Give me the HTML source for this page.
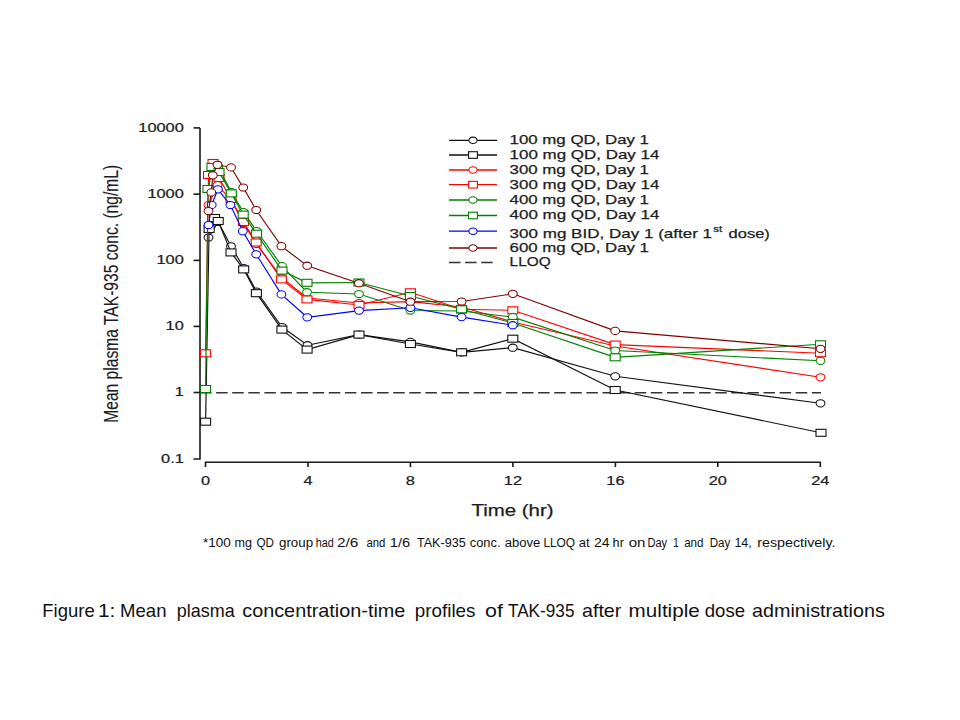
<!DOCTYPE html>
<html><head><meta charset="utf-8"><style>
html,body{margin:0;padding:0;background:#fff;}
svg{position:absolute;left:0;top:0;}
text{font-family:"Liberation Sans",sans-serif;fill:#1c1c24;stroke:#1c1c24;stroke-width:0.25px;}
text.b{fill:#111;stroke:none;}
</style></head><body>
<svg width="960" height="720" viewBox="0 0 960 720">
<g stroke="#1a1a1a" stroke-width="1.6" fill="none">
<path d="M200,127.9 V459 H193.5"/>
<path d="M193.5,127.9 H200"/>
<path d="M193.5,194.2 H200"/>
<path d="M193.5,260.4 H200"/>
<path d="M193.5,326.4 H200"/>
<path d="M193.5,392.5 H200"/>
<path d="M205.5,467 V462.3 H820.3 V467"/>
<path d="M308.0,462.3 V467"/>
<path d="M410.4,462.3 V467"/>
<path d="M512.9,462.3 V467"/>
<path d="M615.4,462.3 V467"/>
<path d="M717.8,462.3 V467"/>
</g>
<path d="M200,392.7 H821" stroke="#333" stroke-width="1.5" stroke-dasharray="11.5 4.6" fill="none"/>
<path d="M208.5,237.5 L218.2,222.0 L231.0,246.3 L243.8,268.0 L256.6,291.5 L282.0,327.0 L307.5,345.2 L359.0,334.6 L410.4,341.9 L461.6,352.3 L512.8,347.7 L615.2,376.3 L820.5,403.3" stroke="#111111" stroke-width="1.15" fill="none"/>
<ellipse cx="208.5" cy="237.5" rx="4.4" ry="3.6" fill="#fff" stroke="#111111" stroke-width="1.05"/>
<ellipse cx="218.2" cy="222.0" rx="4.4" ry="3.6" fill="#fff" stroke="#111111" stroke-width="1.05"/>
<ellipse cx="231.0" cy="246.3" rx="4.4" ry="3.6" fill="#fff" stroke="#111111" stroke-width="1.05"/>
<ellipse cx="243.8" cy="268.0" rx="4.4" ry="3.6" fill="#fff" stroke="#111111" stroke-width="1.05"/>
<ellipse cx="256.6" cy="291.5" rx="4.4" ry="3.6" fill="#fff" stroke="#111111" stroke-width="1.05"/>
<ellipse cx="282.0" cy="327.0" rx="4.4" ry="3.6" fill="#fff" stroke="#111111" stroke-width="1.05"/>
<ellipse cx="307.5" cy="345.2" rx="4.4" ry="3.6" fill="#fff" stroke="#111111" stroke-width="1.05"/>
<ellipse cx="359.0" cy="334.6" rx="4.4" ry="3.6" fill="#fff" stroke="#111111" stroke-width="1.05"/>
<ellipse cx="410.4" cy="341.9" rx="4.4" ry="3.6" fill="#fff" stroke="#111111" stroke-width="1.05"/>
<ellipse cx="461.6" cy="352.3" rx="4.4" ry="3.6" fill="#fff" stroke="#111111" stroke-width="1.05"/>
<ellipse cx="512.8" cy="347.7" rx="4.4" ry="3.6" fill="#fff" stroke="#111111" stroke-width="1.05"/>
<ellipse cx="615.2" cy="376.3" rx="4.4" ry="3.6" fill="#fff" stroke="#111111" stroke-width="1.05"/>
<ellipse cx="820.5" cy="403.3" rx="4.4" ry="3.6" fill="#fff" stroke="#111111" stroke-width="1.05"/>
<path d="M205.6,421.7 L209.1,229.0 L214.5,218.0 L218.2,221.0 L231.0,252.4 L243.7,269.4 L256.4,293.2 L281.9,329.6 L307.1,349.6 L359.0,334.6 L410.4,344.0 L461.6,352.3 L512.8,338.7 L615.2,390.0 L821.0,432.8" stroke="#111111" stroke-width="1.15" fill="none"/>
<rect x="200.6" y="418.2" width="10" height="7" fill="#fff" stroke="#111111" stroke-width="1.1"/>
<rect x="204.1" y="225.5" width="10" height="7" fill="#fff" stroke="#111111" stroke-width="1.1"/>
<rect x="209.5" y="214.5" width="10" height="7" fill="#fff" stroke="#111111" stroke-width="1.1"/>
<rect x="213.2" y="217.5" width="10" height="7" fill="#fff" stroke="#111111" stroke-width="1.1"/>
<rect x="226.0" y="248.9" width="10" height="7" fill="#fff" stroke="#111111" stroke-width="1.1"/>
<rect x="238.7" y="265.9" width="10" height="7" fill="#fff" stroke="#111111" stroke-width="1.1"/>
<rect x="251.4" y="289.7" width="10" height="7" fill="#fff" stroke="#111111" stroke-width="1.1"/>
<rect x="276.9" y="326.1" width="10" height="7" fill="#fff" stroke="#111111" stroke-width="1.1"/>
<rect x="302.1" y="346.1" width="10" height="7" fill="#fff" stroke="#111111" stroke-width="1.1"/>
<rect x="354.0" y="331.1" width="10" height="7" fill="#fff" stroke="#111111" stroke-width="1.1"/>
<rect x="405.4" y="340.5" width="10" height="7" fill="#fff" stroke="#111111" stroke-width="1.1"/>
<rect x="456.6" y="348.8" width="10" height="7" fill="#fff" stroke="#111111" stroke-width="1.1"/>
<rect x="507.8" y="335.2" width="10" height="7" fill="#fff" stroke="#111111" stroke-width="1.1"/>
<rect x="610.2" y="386.5" width="10" height="7" fill="#fff" stroke="#111111" stroke-width="1.1"/>
<rect x="816.0" y="429.3" width="10" height="7" fill="#fff" stroke="#111111" stroke-width="1.1"/>
<path d="M208.5,205.0 L217.5,185.0 L231.0,200.0 L243.5,223.0 L256.2,244.0 L282.0,278.0 L307.0,298.0 L359.0,303.0 L410.4,301.7 L461.6,307.0 L512.8,322.0 L615.2,346.0 L820.5,377.3" stroke="#ff0000" stroke-width="1.15" fill="none"/>
<ellipse cx="208.5" cy="205.0" rx="4.4" ry="3.6" fill="#fff" stroke="#ff0000" stroke-width="1.05"/>
<ellipse cx="217.5" cy="185.0" rx="4.4" ry="3.6" fill="#fff" stroke="#ff0000" stroke-width="1.05"/>
<ellipse cx="231.0" cy="200.0" rx="4.4" ry="3.6" fill="#fff" stroke="#ff0000" stroke-width="1.05"/>
<ellipse cx="243.5" cy="223.0" rx="4.4" ry="3.6" fill="#fff" stroke="#ff0000" stroke-width="1.05"/>
<ellipse cx="256.2" cy="244.0" rx="4.4" ry="3.6" fill="#fff" stroke="#ff0000" stroke-width="1.05"/>
<ellipse cx="282.0" cy="278.0" rx="4.4" ry="3.6" fill="#fff" stroke="#ff0000" stroke-width="1.05"/>
<ellipse cx="307.0" cy="298.0" rx="4.4" ry="3.6" fill="#fff" stroke="#ff0000" stroke-width="1.05"/>
<ellipse cx="359.0" cy="303.0" rx="4.4" ry="3.6" fill="#fff" stroke="#ff0000" stroke-width="1.05"/>
<ellipse cx="410.4" cy="301.7" rx="4.4" ry="3.6" fill="#fff" stroke="#ff0000" stroke-width="1.05"/>
<ellipse cx="461.6" cy="307.0" rx="4.4" ry="3.6" fill="#fff" stroke="#ff0000" stroke-width="1.05"/>
<ellipse cx="512.8" cy="322.0" rx="4.4" ry="3.6" fill="#fff" stroke="#ff0000" stroke-width="1.05"/>
<ellipse cx="615.2" cy="346.0" rx="4.4" ry="3.6" fill="#fff" stroke="#ff0000" stroke-width="1.05"/>
<ellipse cx="820.5" cy="377.3" rx="4.4" ry="3.6" fill="#fff" stroke="#ff0000" stroke-width="1.05"/>
<path d="M205.6,353.3 L208.5,175.0 L213.0,163.0 L219.0,178.0 L231.0,199.0 L243.5,222.0 L256.2,242.5 L281.4,279.4 L307.0,299.4 L359.0,305.0 L410.4,292.3 L461.6,309.3 L512.8,310.3 L615.2,344.6 L820.5,353.2" stroke="#ff0000" stroke-width="1.15" fill="none"/>
<rect x="200.6" y="349.8" width="10" height="7" fill="#fff" stroke="#ff0000" stroke-width="1.1"/>
<rect x="203.5" y="171.5" width="10" height="7" fill="#fff" stroke="#ff0000" stroke-width="1.1"/>
<rect x="208.0" y="159.5" width="10" height="7" fill="#fff" stroke="#ff0000" stroke-width="1.1"/>
<rect x="214.0" y="174.5" width="10" height="7" fill="#fff" stroke="#ff0000" stroke-width="1.1"/>
<rect x="226.0" y="195.5" width="10" height="7" fill="#fff" stroke="#ff0000" stroke-width="1.1"/>
<rect x="238.5" y="218.5" width="10" height="7" fill="#fff" stroke="#ff0000" stroke-width="1.1"/>
<rect x="251.2" y="239.0" width="10" height="7" fill="#fff" stroke="#ff0000" stroke-width="1.1"/>
<rect x="276.4" y="275.9" width="10" height="7" fill="#fff" stroke="#ff0000" stroke-width="1.1"/>
<rect x="302.0" y="295.9" width="10" height="7" fill="#fff" stroke="#ff0000" stroke-width="1.1"/>
<rect x="354.0" y="301.5" width="10" height="7" fill="#fff" stroke="#ff0000" stroke-width="1.1"/>
<rect x="405.4" y="288.8" width="10" height="7" fill="#fff" stroke="#ff0000" stroke-width="1.1"/>
<rect x="456.6" y="305.8" width="10" height="7" fill="#fff" stroke="#ff0000" stroke-width="1.1"/>
<rect x="507.8" y="306.8" width="10" height="7" fill="#fff" stroke="#ff0000" stroke-width="1.1"/>
<rect x="610.2" y="341.1" width="10" height="7" fill="#fff" stroke="#ff0000" stroke-width="1.1"/>
<rect x="815.5" y="349.7" width="10" height="7" fill="#fff" stroke="#ff0000" stroke-width="1.1"/>
<path d="M208.5,189.0 L212.0,167.0 L218.3,167.0 L231.3,192.0 L243.5,212.0 L256.6,231.0 L282.0,266.1 L307.0,292.2 L359.0,294.0 L410.4,310.5 L461.6,311.0 L512.8,317.1 L615.2,350.5 L820.5,360.8" stroke="#008000" stroke-width="1.15" fill="none"/>
<ellipse cx="208.5" cy="189.0" rx="4.4" ry="3.6" fill="#fff" stroke="#008000" stroke-width="1.05"/>
<ellipse cx="212.0" cy="167.0" rx="4.4" ry="3.6" fill="#fff" stroke="#008000" stroke-width="1.05"/>
<ellipse cx="218.3" cy="167.0" rx="4.4" ry="3.6" fill="#fff" stroke="#008000" stroke-width="1.05"/>
<ellipse cx="231.3" cy="192.0" rx="4.4" ry="3.6" fill="#fff" stroke="#008000" stroke-width="1.05"/>
<ellipse cx="243.5" cy="212.0" rx="4.4" ry="3.6" fill="#fff" stroke="#008000" stroke-width="1.05"/>
<ellipse cx="256.6" cy="231.0" rx="4.4" ry="3.6" fill="#fff" stroke="#008000" stroke-width="1.05"/>
<ellipse cx="282.0" cy="266.1" rx="4.4" ry="3.6" fill="#fff" stroke="#008000" stroke-width="1.05"/>
<ellipse cx="307.0" cy="292.2" rx="4.4" ry="3.6" fill="#fff" stroke="#008000" stroke-width="1.05"/>
<ellipse cx="359.0" cy="294.0" rx="4.4" ry="3.6" fill="#fff" stroke="#008000" stroke-width="1.05"/>
<ellipse cx="410.4" cy="310.5" rx="4.4" ry="3.6" fill="#fff" stroke="#008000" stroke-width="1.05"/>
<ellipse cx="461.6" cy="311.0" rx="4.4" ry="3.6" fill="#fff" stroke="#008000" stroke-width="1.05"/>
<ellipse cx="512.8" cy="317.1" rx="4.4" ry="3.6" fill="#fff" stroke="#008000" stroke-width="1.05"/>
<ellipse cx="615.2" cy="350.5" rx="4.4" ry="3.6" fill="#fff" stroke="#008000" stroke-width="1.05"/>
<ellipse cx="820.5" cy="360.8" rx="4.4" ry="3.6" fill="#fff" stroke="#008000" stroke-width="1.05"/>
<path d="M205.6,389.0 L208.0,189.0 L212.0,167.0 L219.0,172.0 L231.3,193.4 L243.2,214.6 L256.6,233.8 L282.0,270.6 L307.0,282.8 L359.0,282.5 L410.4,296.0 L461.6,309.3 L512.8,323.0 L615.2,357.3 L820.5,344.3" stroke="#008000" stroke-width="1.15" fill="none"/>
<rect x="200.6" y="385.5" width="10" height="7" fill="#fff" stroke="#008000" stroke-width="1.1"/>
<rect x="203.0" y="185.5" width="10" height="7" fill="#fff" stroke="#008000" stroke-width="1.1"/>
<rect x="207.0" y="163.5" width="10" height="7" fill="#fff" stroke="#008000" stroke-width="1.1"/>
<rect x="214.0" y="168.5" width="10" height="7" fill="#fff" stroke="#008000" stroke-width="1.1"/>
<rect x="226.3" y="189.9" width="10" height="7" fill="#fff" stroke="#008000" stroke-width="1.1"/>
<rect x="238.2" y="211.1" width="10" height="7" fill="#fff" stroke="#008000" stroke-width="1.1"/>
<rect x="251.6" y="230.2" width="10" height="7" fill="#fff" stroke="#008000" stroke-width="1.1"/>
<rect x="277.0" y="267.1" width="10" height="7" fill="#fff" stroke="#008000" stroke-width="1.1"/>
<rect x="302.0" y="279.3" width="10" height="7" fill="#fff" stroke="#008000" stroke-width="1.1"/>
<rect x="354.0" y="279.0" width="10" height="7" fill="#fff" stroke="#008000" stroke-width="1.1"/>
<rect x="405.4" y="292.5" width="10" height="7" fill="#fff" stroke="#008000" stroke-width="1.1"/>
<rect x="456.6" y="305.8" width="10" height="7" fill="#fff" stroke="#008000" stroke-width="1.1"/>
<rect x="507.8" y="319.5" width="10" height="7" fill="#fff" stroke="#008000" stroke-width="1.1"/>
<rect x="610.2" y="353.8" width="10" height="7" fill="#fff" stroke="#008000" stroke-width="1.1"/>
<rect x="815.5" y="340.8" width="10" height="7" fill="#fff" stroke="#008000" stroke-width="1.1"/>
<path d="M208.5,225.0 L211.7,204.9 L217.9,189.3 L230.4,205.0 L242.8,231.2 L256.2,254.3 L281.4,294.4 L307.2,317.3 L359.0,310.6 L410.4,307.8 L461.6,317.1 L512.8,325.2" stroke="#0000ff" stroke-width="1.15" fill="none"/>
<ellipse cx="208.5" cy="225.0" rx="4.4" ry="3.6" fill="#fff" stroke="#0000ff" stroke-width="1.05"/>
<ellipse cx="211.7" cy="204.9" rx="4.4" ry="3.6" fill="#fff" stroke="#0000ff" stroke-width="1.05"/>
<ellipse cx="217.9" cy="189.3" rx="4.4" ry="3.6" fill="#fff" stroke="#0000ff" stroke-width="1.05"/>
<ellipse cx="230.4" cy="205.0" rx="4.4" ry="3.6" fill="#fff" stroke="#0000ff" stroke-width="1.05"/>
<ellipse cx="242.8" cy="231.2" rx="4.4" ry="3.6" fill="#fff" stroke="#0000ff" stroke-width="1.05"/>
<ellipse cx="256.2" cy="254.3" rx="4.4" ry="3.6" fill="#fff" stroke="#0000ff" stroke-width="1.05"/>
<ellipse cx="281.4" cy="294.4" rx="4.4" ry="3.6" fill="#fff" stroke="#0000ff" stroke-width="1.05"/>
<ellipse cx="307.2" cy="317.3" rx="4.4" ry="3.6" fill="#fff" stroke="#0000ff" stroke-width="1.05"/>
<ellipse cx="359.0" cy="310.6" rx="4.4" ry="3.6" fill="#fff" stroke="#0000ff" stroke-width="1.05"/>
<ellipse cx="410.4" cy="307.8" rx="4.4" ry="3.6" fill="#fff" stroke="#0000ff" stroke-width="1.05"/>
<ellipse cx="461.6" cy="317.1" rx="4.4" ry="3.6" fill="#fff" stroke="#0000ff" stroke-width="1.05"/>
<ellipse cx="512.8" cy="325.2" rx="4.4" ry="3.6" fill="#fff" stroke="#0000ff" stroke-width="1.05"/>
<path d="M208.5,211.0 L211.3,192.4 L212.8,175.3 L217.5,164.8 L231.0,167.4 L243.2,187.5 L256.2,210.0 L281.4,246.2 L307.2,265.7 L358.9,283.2 L410.4,301.7 L461.6,301.5 L512.8,293.8 L615.2,330.9 L820.5,348.8" stroke="#800000" stroke-width="1.15" fill="none"/>
<ellipse cx="208.5" cy="211.0" rx="4.4" ry="3.6" fill="#fff" stroke="#800000" stroke-width="1.05"/>
<ellipse cx="211.3" cy="192.4" rx="4.4" ry="3.6" fill="#fff" stroke="#800000" stroke-width="1.05"/>
<ellipse cx="212.8" cy="175.3" rx="4.4" ry="3.6" fill="#fff" stroke="#800000" stroke-width="1.05"/>
<ellipse cx="217.5" cy="164.8" rx="4.4" ry="3.6" fill="#fff" stroke="#800000" stroke-width="1.05"/>
<ellipse cx="231.0" cy="167.4" rx="4.4" ry="3.6" fill="#fff" stroke="#800000" stroke-width="1.05"/>
<ellipse cx="243.2" cy="187.5" rx="4.4" ry="3.6" fill="#fff" stroke="#800000" stroke-width="1.05"/>
<ellipse cx="256.2" cy="210.0" rx="4.4" ry="3.6" fill="#fff" stroke="#800000" stroke-width="1.05"/>
<ellipse cx="281.4" cy="246.2" rx="4.4" ry="3.6" fill="#fff" stroke="#800000" stroke-width="1.05"/>
<ellipse cx="307.2" cy="265.7" rx="4.4" ry="3.6" fill="#fff" stroke="#800000" stroke-width="1.05"/>
<ellipse cx="358.9" cy="283.2" rx="4.4" ry="3.6" fill="#fff" stroke="#800000" stroke-width="1.05"/>
<ellipse cx="410.4" cy="301.7" rx="4.4" ry="3.6" fill="#fff" stroke="#800000" stroke-width="1.05"/>
<ellipse cx="461.6" cy="301.5" rx="4.4" ry="3.6" fill="#fff" stroke="#800000" stroke-width="1.05"/>
<ellipse cx="512.8" cy="293.8" rx="4.4" ry="3.6" fill="#fff" stroke="#800000" stroke-width="1.05"/>
<ellipse cx="615.2" cy="330.9" rx="4.4" ry="3.6" fill="#fff" stroke="#800000" stroke-width="1.05"/>
<ellipse cx="820.5" cy="348.8" rx="4.4" ry="3.6" fill="#fff" stroke="#800000" stroke-width="1.05"/>
<path d="M449,140.3 H497" stroke="#111111" stroke-width="1.3"/>
<ellipse cx="473.0" cy="140.3" rx="4.1" ry="3.2" fill="#fff" stroke="#111111" stroke-width="1.05"/>
<path d="M449,155 H497" stroke="#111111" stroke-width="1.3"/>
<rect x="468.6" y="151.7" width="8.8" height="6.6" fill="#fff" stroke="#111111" stroke-width="1.1"/>
<path d="M449,170 H497" stroke="#ff0000" stroke-width="1.3"/>
<ellipse cx="473.0" cy="170.0" rx="4.1" ry="3.2" fill="#fff" stroke="#ff0000" stroke-width="1.05"/>
<path d="M449,184.7 H497" stroke="#ff0000" stroke-width="1.3"/>
<rect x="468.6" y="181.4" width="8.8" height="6.6" fill="#fff" stroke="#ff0000" stroke-width="1.1"/>
<path d="M449,200 H497" stroke="#008000" stroke-width="1.3"/>
<ellipse cx="473.0" cy="200.0" rx="4.1" ry="3.2" fill="#fff" stroke="#008000" stroke-width="1.05"/>
<path d="M449,215.5 H497" stroke="#008000" stroke-width="1.3"/>
<rect x="468.6" y="212.2" width="8.8" height="6.6" fill="#fff" stroke="#008000" stroke-width="1.1"/>
<path d="M449,231.2 H497" stroke="#0000ff" stroke-width="1.3"/>
<ellipse cx="473.0" cy="231.2" rx="4.1" ry="3.2" fill="#fff" stroke="#0000ff" stroke-width="1.05"/>
<path d="M449,248 H497" stroke="#800000" stroke-width="1.3"/>
<ellipse cx="473.0" cy="248.0" rx="4.1" ry="3.2" fill="#fff" stroke="#800000" stroke-width="1.05"/>
<path d="M449,262.5 H493" stroke="#333" stroke-width="1.5" stroke-dasharray="11.5 4.6"/>
<text x="509.6" y="144.2" font-size="13.2" text-anchor="start" textLength="139.4" lengthAdjust="spacingAndGlyphs" >100 mg QD, Day 1</text>
<text x="509.6" y="158.75" font-size="13.2" text-anchor="start" textLength="149.8" lengthAdjust="spacingAndGlyphs" >100 mg QD, Day 14</text>
<text x="509.6" y="174.2" font-size="13.2" text-anchor="start" textLength="139.4" lengthAdjust="spacingAndGlyphs" >300 mg QD, Day 1</text>
<text x="509.6" y="188.75" font-size="13.2" text-anchor="start" textLength="149.8" lengthAdjust="spacingAndGlyphs" >300 mg QD, Day 14</text>
<text x="509.6" y="203.9" font-size="13.2" text-anchor="start" textLength="139.4" lengthAdjust="spacingAndGlyphs" >400 mg QD, Day 1</text>
<text x="509.6" y="219.4" font-size="13.2" text-anchor="start" textLength="149.8" lengthAdjust="spacingAndGlyphs" >400 mg QD, Day 14</text>
<text x="509.6" y="252.2" font-size="13.2" text-anchor="start" textLength="139.4" lengthAdjust="spacingAndGlyphs" >600 mg QD, Day 1</text>
<text x="509.6" y="266.4" font-size="13.2" text-anchor="start" textLength="41" lengthAdjust="spacingAndGlyphs" >LLOQ</text>
<text x="509.6" y="237.6" font-size="13.2" text-anchor="start" textLength="202.5" lengthAdjust="spacingAndGlyphs" >300 mg BID, Day 1 (after 1</text>
<text x="713.3" y="232.3" font-size="8.5" text-anchor="start" textLength="8.8" lengthAdjust="spacingAndGlyphs" >st</text>
<text x="728.6" y="237.6" font-size="13.2" text-anchor="start" textLength="41.2" lengthAdjust="spacingAndGlyphs" >dose)</text>
<text transform="translate(183.8,131.7) scale(1.24,1)" font-size="13.2" text-anchor="end">10000</text>
<text transform="translate(183.8,197.9) scale(1.24,1)" font-size="13.2" text-anchor="end">1000</text>
<text transform="translate(183.8,264) scale(1.24,1)" font-size="13.2" text-anchor="end">100</text>
<text transform="translate(183.8,330) scale(1.24,1)" font-size="13.2" text-anchor="end">10</text>
<text transform="translate(183.8,396.2) scale(1.24,1)" font-size="13.2" text-anchor="end">1</text>
<text transform="translate(183.8,462.5) scale(1.24,1)" font-size="13.2" text-anchor="end">0.1</text>
<text transform="translate(205.5,485.3) scale(1.24,1)" font-size="13.2" text-anchor="middle">0</text>
<text transform="translate(308.0,485.3) scale(1.24,1)" font-size="13.2" text-anchor="middle">4</text>
<text transform="translate(410.4,485.3) scale(1.24,1)" font-size="13.2" text-anchor="middle">8</text>
<text transform="translate(512.9,485.3) scale(1.24,1)" font-size="13.2" text-anchor="middle">12</text>
<text transform="translate(615.4,485.3) scale(1.24,1)" font-size="13.2" text-anchor="middle">16</text>
<text transform="translate(717.8,485.3) scale(1.24,1)" font-size="13.2" text-anchor="middle">20</text>
<text transform="translate(820.3,485.3) scale(1.24,1)" font-size="13.2" text-anchor="middle">24</text>
<text x="471.5" y="516" font-size="15.6" text-anchor="start" textLength="82" lengthAdjust="spacingAndGlyphs" >Time (hr)</text>
<text style="stroke-width:0.1px" transform="translate(118,422.8) scale(1.26,1) rotate(-90)" font-size="15.6" textLength="258" lengthAdjust="spacingAndGlyphs">Mean plasma TAK-935 conc. (ng/mL)</text>
<text class="b" x="203.01" y="546.9" font-size="12" textLength="27.83" lengthAdjust="spacingAndGlyphs">*100</text>
<text class="b" x="234.64" y="546.9" font-size="12" textLength="17.48" lengthAdjust="spacingAndGlyphs">mg</text>
<text class="b" x="256.38" y="546.9" font-size="12" textLength="17.46" lengthAdjust="spacingAndGlyphs">QD</text>
<text class="b" x="279.0" y="546.9" font-size="12" textLength="34.06" lengthAdjust="spacingAndGlyphs">group</text>
<text class="b" x="315.81" y="546.9" font-size="12" textLength="18.04" lengthAdjust="spacingAndGlyphs">had</text>
<text class="b" x="337.02" y="546.9" font-size="12" textLength="21.44" lengthAdjust="spacingAndGlyphs">2/6</text>
<text class="b" x="366.39" y="546.9" font-size="12" textLength="19.03" lengthAdjust="spacingAndGlyphs">and</text>
<text class="b" x="389.87" y="546.9" font-size="12" textLength="20.42" lengthAdjust="spacingAndGlyphs">1/6</text>
<text class="b" x="416.95" y="546.9" font-size="12" textLength="48.81" lengthAdjust="spacingAndGlyphs">TAK-935</text>
<text class="b" x="469.78" y="546.9" font-size="12" textLength="30.69" lengthAdjust="spacingAndGlyphs">conc.</text>
<text class="b" x="504.82" y="546.9" font-size="12" textLength="35.55" lengthAdjust="spacingAndGlyphs">above</text>
<text class="b" x="543.43" y="546.9" font-size="12" textLength="31.6" lengthAdjust="spacingAndGlyphs">LLOQ</text>
<text class="b" x="578.78" y="546.9" font-size="12" textLength="10.83" lengthAdjust="spacingAndGlyphs">at</text>
<text class="b" x="594.0" y="546.9" font-size="12" textLength="15.64" lengthAdjust="spacingAndGlyphs">24</text>
<text class="b" x="612.63" y="546.9" font-size="12" textLength="11.25" lengthAdjust="spacingAndGlyphs">hr</text>
<text class="b" x="628.72" y="546.9" font-size="12" textLength="16.67" lengthAdjust="spacingAndGlyphs">on</text>
<text class="b" x="647.39" y="546.9" font-size="12" textLength="19.72" lengthAdjust="spacingAndGlyphs">Day</text>
<text class="b" x="672.92" y="546.9" font-size="12" textLength="5.84" lengthAdjust="spacingAndGlyphs">1</text>
<text class="b" x="684.14" y="546.9" font-size="12" textLength="19.36" lengthAdjust="spacingAndGlyphs">and</text>
<text class="b" x="709.66" y="546.9" font-size="12" textLength="20.61" lengthAdjust="spacingAndGlyphs">Day</text>
<text class="b" x="734.42" y="546.9" font-size="12" textLength="17.41" lengthAdjust="spacingAndGlyphs">14,</text>
<text class="b" x="757.25" y="546.9" font-size="12" textLength="78.26" lengthAdjust="spacingAndGlyphs">respectively.</text>
<text class="b" x="42.28" y="617" font-size="18.2" textLength="52.45" lengthAdjust="spacingAndGlyphs">Figure</text>
<text class="b" x="97.99" y="617" font-size="18.2" textLength="17.4" lengthAdjust="spacingAndGlyphs">1:</text>
<text class="b" x="120.07" y="617" font-size="18.2" textLength="46.41" lengthAdjust="spacingAndGlyphs">Mean</text>
<text class="b" x="176.87" y="617" font-size="18.2" textLength="57.93" lengthAdjust="spacingAndGlyphs">plasma</text>
<text class="b" x="242.22" y="617" font-size="18.2" textLength="163.19" lengthAdjust="spacingAndGlyphs">concentration-time</text>
<text class="b" x="414.82" y="617" font-size="18.2" textLength="60.71" lengthAdjust="spacingAndGlyphs">profiles</text>
<text class="b" x="485.0" y="617" font-size="18.2" textLength="17.93" lengthAdjust="spacingAndGlyphs">of</text>
<text class="b" x="507.95" y="617" font-size="18.2" textLength="66.54" lengthAdjust="spacingAndGlyphs">TAK-935</text>
<text class="b" x="582.04" y="617" font-size="18.2" textLength="39.31" lengthAdjust="spacingAndGlyphs">after</text>
<text class="b" x="628.64" y="617" font-size="18.2" textLength="71.13" lengthAdjust="spacingAndGlyphs">multiple</text>
<text class="b" x="704.77" y="617" font-size="18.2" textLength="40.33" lengthAdjust="spacingAndGlyphs">dose</text>
<text class="b" x="752.0" y="617" font-size="18.2" textLength="132.79" lengthAdjust="spacingAndGlyphs">administrations</text>
</svg>
</body></html>
